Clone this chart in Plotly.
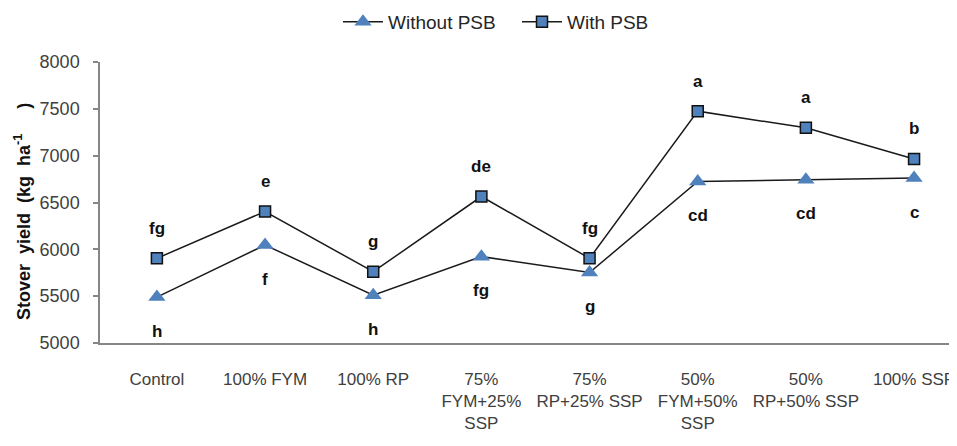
import plotly.graph_objects as go

categories = ["Control", "100% FYM", "100% RP", "75%<br>FYM+25%<br>SSP",
              "75%<br>RP+25% SSP", "50%<br>FYM+50%<br>SSP", "50%<br>RP+50% SSP", "100% SSP"]
without_psb = [5490, 6046, 5510, 5922, 5752, 6725, 6743, 6761]
with_psb = [5904, 6404, 5761, 6564, 5904, 7475, 7297, 6965]
without_letters = ["h", "f", "h", "fg", "g", "cd", "cd", "c"]
with_letters = ["fg", "e", "g", "de", "fg", "a", "a", "b"]
y_ticks = [5000, 5500, 6000, 6500, 7000, 7500, 8000]

FONT = "Liberation Sans"
BLUE = "#4F81BD"
# page body has an 8px margin; figure sized to fill the rest of the window
W, H = 949, 438
L, R, T, B = 92, 0, 54, 103
xs = list(range(len(categories)))

fig = go.Figure()
fig.add_trace(go.Scatter(
    x=xs, y=without_psb, name="Without PSB", mode="lines+markers",
    line=dict(color="#1a1a1a", width=1.5),
    marker=dict(symbol="triangle-up", size=15, color=BLUE, line=dict(width=0)),
))
fig.add_trace(go.Scatter(
    x=xs, y=with_psb, name="With PSB", mode="lines+markers",
    line=dict(color="#1a1a1a", width=1.5),
    marker=dict(symbol="square", size=11, color=BLUE, line=dict(color="#111111", width=1.5)),
))

annotations = []
for i, (v, t) in enumerate(zip(with_psb, with_letters)):
    annotations.append(dict(x=i, y=v, xref="x", yref="y", text="<b>" + t + "</b>", showarrow=False,
                            yshift=30, font=dict(family=FONT, size=17, color="#111111")))
for i, (v, t) in enumerate(zip(without_psb, without_letters)):
    annotations.append(dict(x=i, y=v, xref="x", yref="y", text="<b>" + t + "</b>", showarrow=False,
                            yshift=-34, font=dict(family=FONT, size=17, color="#111111")))

pw, ph = W - L - R, H - T - B
annotations.append(dict(
    x=(14 - L) / pw, y=(H - B - 204) / ph, xref="paper", yref="paper",
    xanchor="center", yanchor="middle", showarrow=False, textangle=-90,
    text="<b>Stover\u00a0\u00a0yield\u00a0\u00a0(kg\u00a0\u00a0ha<sup>-1</sup>\u00a0\u00a0\u00a0\u00a0\u00a0)</b>",
    font=dict(family=FONT, size=18, color="#111111"),
))

fig.update_layout(
    width=W, height=H,
    margin=dict(l=L, r=R, t=T, b=B, autoexpand=False),
    paper_bgcolor="white", plot_bgcolor="white",
    font=dict(family=FONT, size=17, color="#404040"),
    showlegend=True,
    legend=dict(orientation="h", xref="container", yref="container",
                x=330 / W, xanchor="left", y=1 - 14 / H, yanchor="middle",
                itemwidth=40, entrywidth=124,
                font=dict(family=FONT, size=19, color="#262626"), bgcolor="rgba(0,0,0,0)"),
    annotations=annotations,
)

fig.update_xaxes(
    tickmode="array", tickvals=xs, ticktext=categories,
    range=[-0.526, 7.397], showgrid=False, zeroline=False,
    showline=True, linecolor="#868686", linewidth=1.5,
    ticks="", ticklabelstandoff=20,
    tickfont=dict(family=FONT, size=17, color="#404040"),
)
fig.update_yaxes(
    range=[5000, 8000], tickvals=y_ticks, showgrid=False, zeroline=False,
    showline=True, linecolor="#868686", linewidth=1.5,
    ticks="outside", ticklen=5, tickcolor="#868686", tickwidth=1.5,
    ticklabelstandoff=10,
    tickfont=dict(family=FONT, size=18, color="#404040"),
)

fig.write_html("out.html")
